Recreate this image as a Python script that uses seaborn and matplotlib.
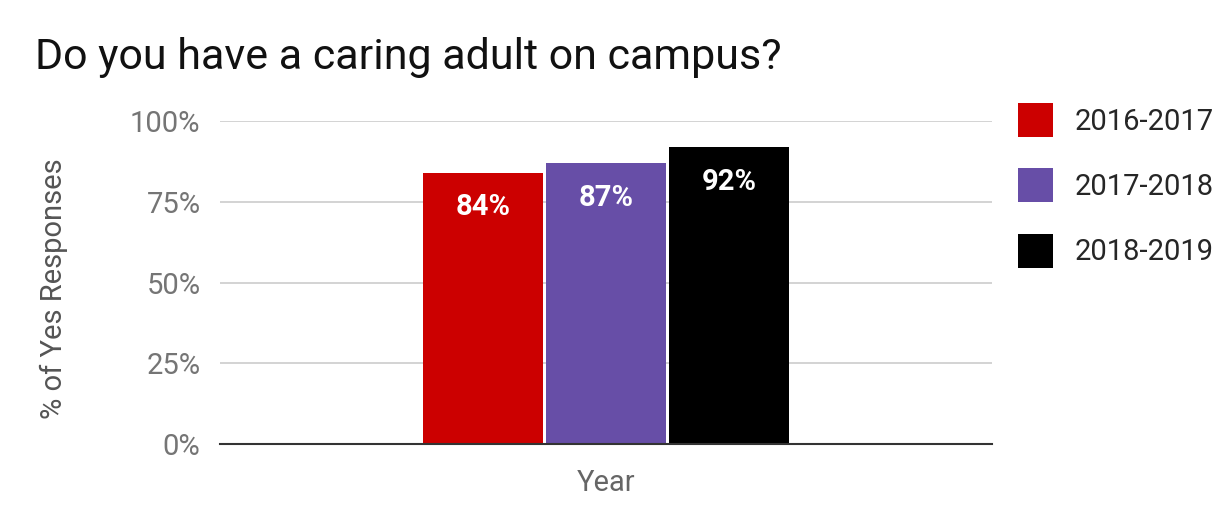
import matplotlib
matplotlib.use("Agg")
import matplotlib.pyplot as plt
import seaborn as sns
import pandas as pd

categories = ["Year"]
series = ["2016-2017", "2017-2018", "2018-2019"]
values = [84, 87, 92]
labels = ["84%", "87%", "92%"]
yticks = [0, 25, 50, 75, 100]
ytick_labels = ["0%", "25%", "50%", "75%", "100%"]
colors = ["#cc0000", "#674ea7", "#000000"]

df = pd.DataFrame({"cat": categories * len(series), "Series": series, "Value": values})

sns.set_theme(style="white")
plt.rcParams['font.family'] = ['Roboto', 'DejaVu Sans']

fig = plt.figure(figsize=(12.26, 5.24), dpi=100)
ax = fig.add_axes([220/1226, 80/524, 772/1226, 323/524])

sns.barplot(data=df, x="cat", y="Value", hue="Series", palette=colors,
            width=0.478, gap=0.03, ax=ax, legend=True, saturation=1, edgecolor="none")

ax.set_xlim(-0.5, 0.5)
ax.set_ylim(0, 100)
ax.set_yticks(yticks)
ax.set_yticklabels(ytick_labels, fontsize=21, color="#757575")
ax.set_xticks([])
ax.yaxis.grid(True, color="#cccccc", linewidth=1.2)
ax.set_axisbelow(True)
ax.tick_params(axis="y", length=0, pad=14)
for s in ["top", "right", "left"]:
    ax.spines[s].set_visible(False)
ax.spines["bottom"].set_color("#333333")
ax.spines["bottom"].set_linewidth(1.5)

ax.set_xlabel("Year", fontsize=21, color="#666666", labelpad=18)
ax.set_ylabel("% of Yes Responses", fontsize=21, color="#555555")
ax.yaxis.set_label_coords(-0.197, 0.48)

for cont, lab in zip(ax.containers, labels):
    for bar in cont:
        ax.annotate(lab, xy=(bar.get_x() + bar.get_width() / 2, bar.get_height()),
                    xytext=(0, -25), textcoords="offset points",
                    ha="center", va="center", color="white",
                    fontsize=21, fontweight="bold")

h, l = ax.get_legend_handles_labels()
ax.legend_.remove()
fig.legend(h, l, loc="upper left", bbox_to_anchor=(1018/1226, (524-103)/524),
           frameon=False, fontsize=21, handlelength=1.2, handleheight=1.42,
           handletextpad=0.75, labelspacing=1.07, borderpad=0, borderaxespad=0)

fig.text(35/1226, (524-58)/524, "Do you have a caring adult on campus?",
         fontsize=31, color="#111111", va="center", ha="left")

fig.savefig("out.png", dpi=100, facecolor="white")
